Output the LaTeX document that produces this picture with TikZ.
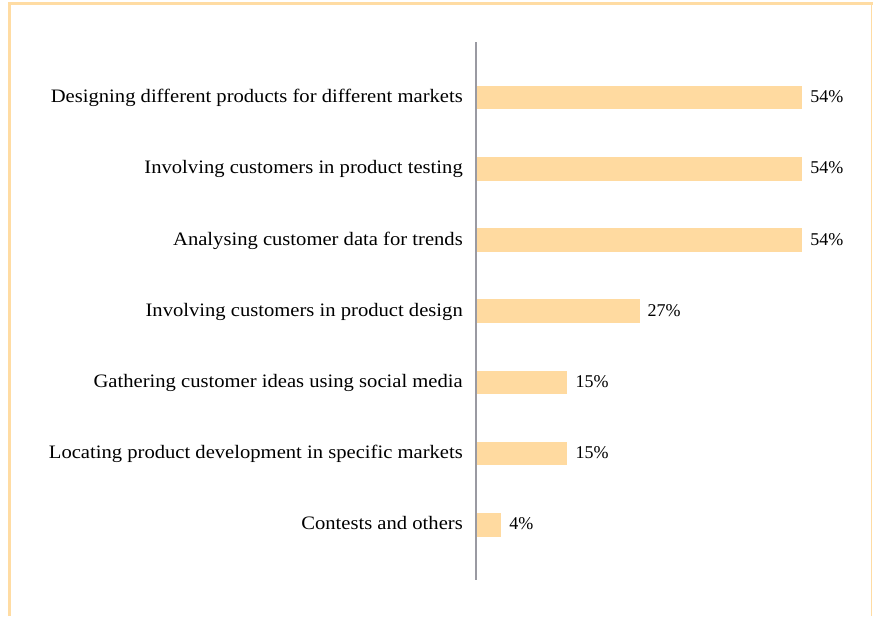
\documentclass[tikz,border=0pt]{standalone}
\usepackage{fontspec}
\setmainfont{Liberation Serif}
\newfontfamily\labfont[FakeStretch=1.085]{Liberation Serif}
\definecolor{barc}{HTML}{FFDAA0}
\definecolor{framec}{HTML}{FFDCA3}
\definecolor{axisc}{HTML}{9A9AA2}
\tikzset{
  bar/.style={fill=barc, draw=none},
  lab/.style={anchor=base east, inner sep=0pt, font=\labfont\fontsize{19}{21}\selectfont},
  val/.style={anchor=base west, inner sep=0pt, font=\fontsize{18}{20}\selectfont},
}
\begin{document}
\begin{tikzpicture}[x=1pt,y=-1pt]
\useasboundingbox (0,0) rectangle (873,616);
% frame
\draw[framec, line width=3pt] (9.7,616) -- (9.7,3.8) -- (873,3.8);
\draw[framec, line width=1pt] (871.7,3.8) -- (871.7,616);
% bars
\def\sc{6.02}
\foreach \i/\v/\t in {0/54/Designing different products for different markets,
                      1/54/Involving customers in product testing,
                      2/54/Analysing customer data for trends,
                      3/27/Involving customers in product design,
                      4/15/Gathering customer ideas using social media,
                      5/15/Locating product development in specific markets,
                      6/4/Contests and others}{
  \pgfmathsetmacro{\yc}{97.5+71.2*\i}
  \pgfmathsetmacro{\xe}{477+\sc*\v}
  \path[bar] (477,\yc-11.8) rectangle (\xe,\yc+11.8);
  \node[lab] (l\i) at (463,\yc+5.2) {\t};
  \node[val] (v\i) at (\xe+8,\yc+5.2) {\v\%};
}
% axis
\draw[axisc, line width=2.4pt] (476,42) -- (476,580);
\end{tikzpicture}
\end{document}
